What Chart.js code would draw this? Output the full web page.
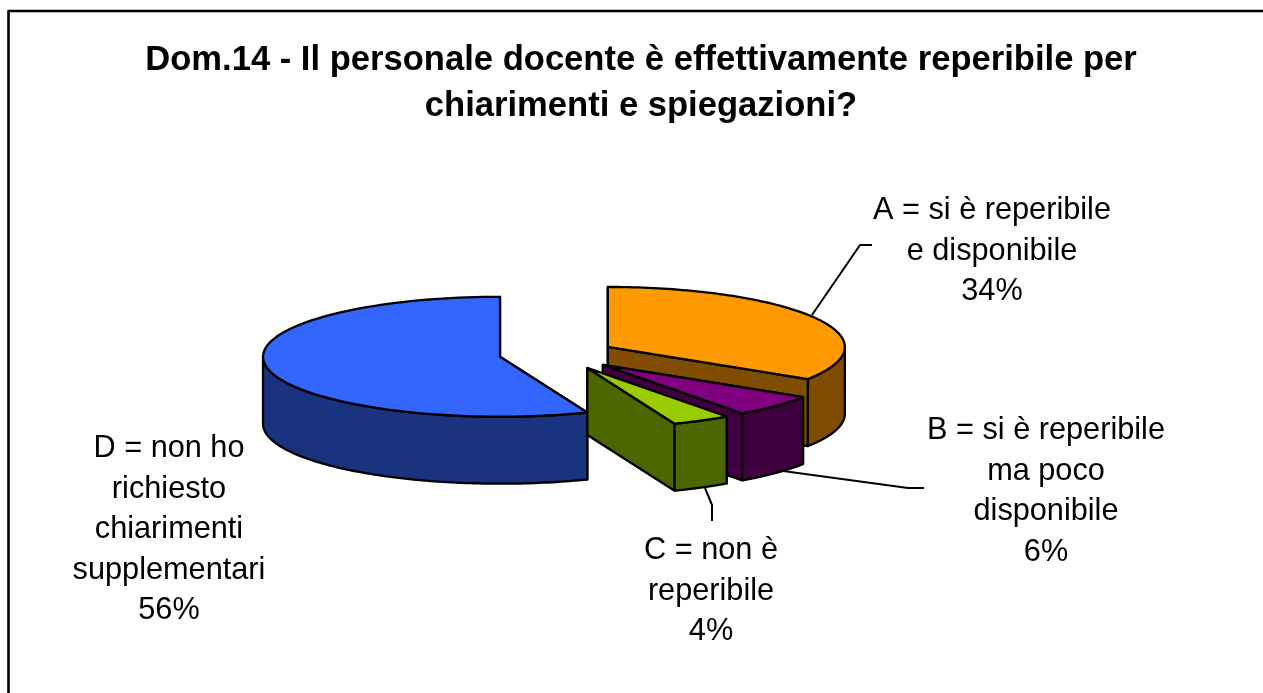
<!DOCTYPE html>
<html><head><meta charset="utf-8">
<style>html,body{margin:0;padding:0;background:#fff}canvas{display:block}</style>
<script src="https://cdn.jsdelivr.net/npm/chart.js@4"></script>
</head><body><canvas id="c" width="1263" height="693"></canvas>
<script>
const categories = ["A = si è reperibile e disponibile","B = si è reperibile ma poco disponibile","C = non è reperibile","D = non ho richiesto chiarimenti supplementari"];
const shares = [34, 6, 4, 56];
const topColors = ["#FF9900","#800080","#99CC00","#3366FF"];
const sideColors = ["#7F4C00","#400040","#4C6600","#19337F"];
const titleLines = ["Dom.14 - Il personale docente è effettivamente reperibile per","chiarimenti e spiegazioni?"];
const labelLines = [["A = si è reperibile","e disponibile","34%"],["B = si è reperibile","ma poco","disponibile","6%"],["C = non è","reperibile","4%"],["D = non ho","richiesto","chiarimenti","supplementari","56%"]];

const view = {cx:557, cy:354, squash:0.253, depth:67, stroke:2.3};
const explode = [58, 63, 63, 58];
const labelAnchors = [{x:992,y:211},{x:1046,y:431},{x:711,y:551},{x:169,y:449}];
const leaders = [[[812,315],[860,245],[872,245]],[[783,471],[908,488],[924,488]],[[705,488],[712,505],[712,521]]];
const labelFont = '30.7px "Liberation Sans"', labelStep = 40.4;

function origin(el,i){const m=(el.startAngle+el.endAngle)/2;return{x:view.cx+explode[i]*Math.cos(m),y:view.cy+explode[i]*Math.sin(m)*view.squash};}
function pt(o,a,r){return{x:o.x+r*Math.cos(a),y:o.y+r*Math.sin(a)*view.squash};}
function poly(ctx,pts,fill){ctx.beginPath();pts.forEach((p,i)=>i?ctx.lineTo(p.x,p.y):ctx.moveTo(p.x,p.y));ctx.closePath();ctx.fillStyle=fill;ctx.fill();ctx.stroke();}
const down=p=>({x:p.x,y:p.y+view.depth});
function pen(ctx){ctx.lineWidth=view.stroke;ctx.strokeStyle='#000';ctx.lineJoin='round';}

const pie3d = {
  id:'pie3d',
  beforeDatasetsDraw(chart){
    const ctx=chart.ctx, meta=chart.getDatasetMeta(0);
    ctx.save();pen(ctx);
    ctx.lineWidth=2.6;ctx.strokeRect(8.5,11,1300,800);
    ctx.lineWidth=2;
    leaders.forEach(l=>{ctx.beginPath();l.forEach((p,i)=>i?ctx.lineTo(p[0],p[1]):ctx.moveTo(p[0],p[1]));ctx.stroke();});
    ctx.restore();
    // back to front: D, A, B, C
    [3,0,1,2].forEach(i=>{
      const el=meta.data[i], o=origin(el,i), R=el.outerRadius, n=100;
      ctx.save();pen(ctx);
      [el.startAngle,el.endAngle].forEach(a=>{
        const p=pt(o,a,R);
        poly(ctx,[o,p,down(p),down(o)],sideColors[i]);
      });
      const s=Math.max(el.startAngle,0), e=Math.min(el.endAngle,Math.PI);
      if(e>s){
        const rim=[];
        for(let k=0;k<=n;k++)rim.push(pt(o,s+(e-s)*k/n,R));
        poly(ctx,rim.concat(rim.slice().reverse().map(down)),sideColors[i]);
      }
      ctx.restore();
      // top surface: the library's own arc element, flattened
      ctx.save();
      ctx.translate(o.x,o.y);ctx.scale(1,view.squash);ctx.translate(-el.x,-el.y);
      el.draw(ctx);
      ctx.restore();
      ctx.save();pen(ctx);
      ctx.beginPath();ctx.moveTo(o.x,o.y);
      for(let k=0;k<=n;k++){const p=pt(o,el.startAngle+(el.endAngle-el.startAngle)*k/n,R);ctx.lineTo(p.x,p.y);}
      ctx.closePath();ctx.stroke();ctx.restore();
    });
    ctx.save();ctx.font=labelFont;ctx.fillStyle='#000';ctx.textAlign='center';ctx.textBaseline='middle';
    labelLines.forEach((ls,i)=>ls.forEach((t,j)=>ctx.fillText(t,labelAnchors[i].x,labelAnchors[i].y+j*labelStep)));
    ctx.restore();
    return false;
  }
};

new Chart(document.getElementById('c'),{
  type:'pie',
  data:{labels:categories,datasets:[{data:shares,backgroundColor:topColors,borderWidth:0,radius:237}]},
  plugins:[pie3d],
  options:{
    responsive:false,animation:false,
    layout:{padding:{left:19,right:0,top:0,bottom:0}},
    events:[],
    plugins:{
      legend:{display:false},tooltip:{enabled:false},
      title:{display:true,text:titleLines,color:'#000',font:{family:'"Liberation Sans"',size:34.6,weight:'bold',lineHeight:1.34},padding:{top:37,bottom:10}}
    }
  }
});
</script></body></html>
